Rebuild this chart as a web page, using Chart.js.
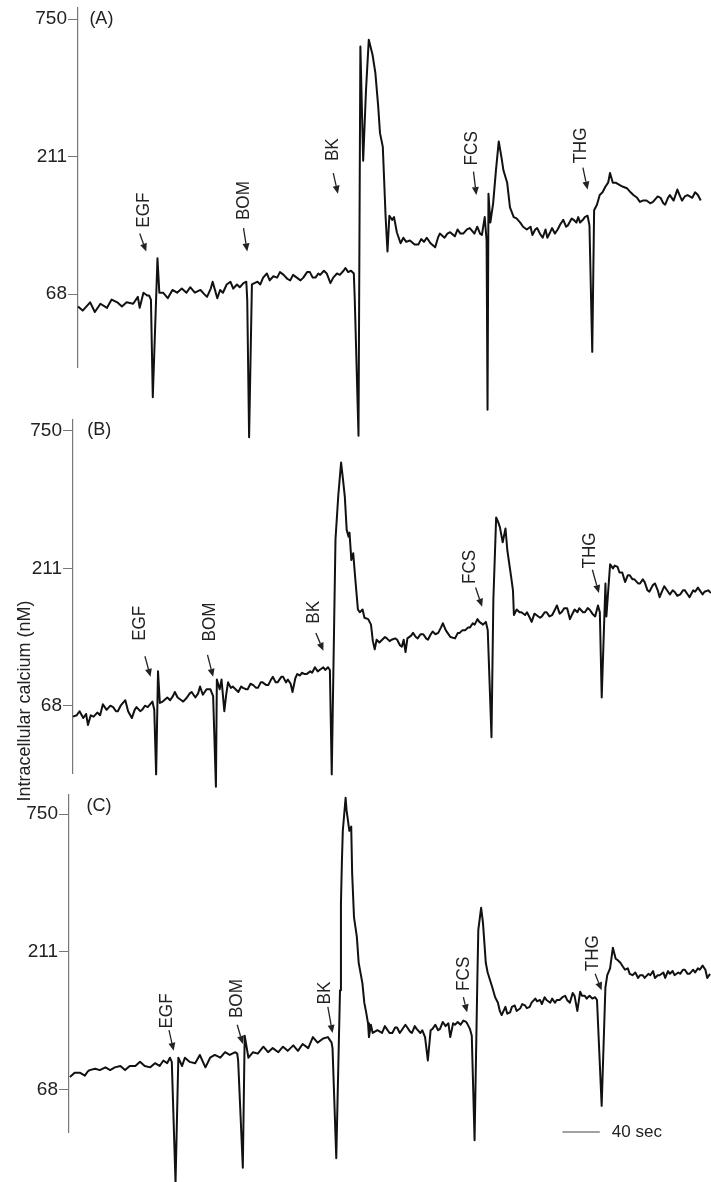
<!DOCTYPE html>
<html>
<head>
<meta charset="utf-8">
<script src="https://cdn.jsdelivr.net/npm/chart.js@4"></script>
<style>
html, body { margin: 0; padding: 0; background: #fff; }
#wrap { position: relative; width: 711px; height: 1182px; overflow: hidden; }
#wrap canvas { position: absolute; left: 0; top: 0; }
</style>
</head>
<body>
<div id="wrap">
<canvas id="chartA" width="711" height="1182"></canvas>
<canvas id="chartB" width="711" height="1182"></canvas>
<canvas id="chartC" width="711" height="1182"></canvas>
</div>
<script>
// fura-2 ratio levels; tick levels are labelled with the calibrated nM values
var tickValues = [1, 2, 3];
var tickLabels = ['68', '211', '750'];
var agents = ['EGF', 'BOM', 'BK', 'FCS', 'THG'];

// panel A (time in sec, level)
var timeA = [0,5,13,18,24,31,36,42,47,52,59,64,66,70,74,76,78,80,85,87,91,96,101,106,111,116,120,125,131,135,138,142,144,149,152,155,159,163,166,170,173,177,180,181,183,186,192,195,198,202,205,209,213,216,220,224,227,230,234,238,241,245,248,251,254,257,259,263,266,270,273,277,280,284,286,289,292,295,296,300,302,305,308,311,315,318,321,323,326,329,331,333,336,338,341,345,348,351,355,360,364,367,370,373,377,382,385,387,392,395,398,403,406,409,412,416,419,424,427,430,432,435,437,438,439,441,444,447,450,453,455,459,462,466,469,473,476,480,484,486,489,491,494,497,500,502,505,507,510,513,516,519,522,524,528,530,533,535,537,540,542,545,547,550,552,555,558,561,564,567,569,572,575,580,583,587,591,594,598,601,604,608,612,615,620,623,626,628,631,633,637,641,644,646,649,652,657,660,663,666];
var caA = [0.91,0.88,0.94,0.87,0.93,0.90,0.96,0.94,0.91,0.94,0.93,0.98,0.90,1.01,0.99,0.99,0.96,0.25,1.26,1.01,1.01,0.97,1.03,1.01,1.04,1.01,1.05,1.01,1.03,1.00,0.98,1.04,1.09,0.97,1.03,1.01,1.07,1.09,1.04,1.07,1.05,1.08,1.09,0.96,-0.04,1.07,1.09,1.07,1.12,1.15,1.10,1.13,1.12,1.16,1.14,1.11,1.10,1.14,1.12,1.10,1.12,1.16,1.16,1.12,1.12,1.15,1.14,1.17,1.15,1.08,1.12,1.15,1.14,1.17,1.19,1.16,1.17,1.15,0.96,-0.03,2.80,1.97,2.48,2.85,2.74,2.61,2.37,2.17,2.07,1.56,1.31,1.57,1.54,1.56,1.45,1.37,1.41,1.38,1.39,1.36,1.36,1.40,1.38,1.41,1.37,1.34,1.41,1.44,1.41,1.44,1.45,1.42,1.47,1.44,1.44,1.47,1.48,1.44,1.49,1.44,1.43,1.56,1.39,0.16,1.73,1.52,1.66,1.90,2.11,1.99,1.90,1.81,1.63,1.56,1.55,1.52,1.49,1.47,1.49,1.43,1.47,1.48,1.44,1.41,1.47,1.41,1.45,1.48,1.44,1.47,1.51,1.54,1.49,1.50,1.55,1.54,1.52,1.56,1.52,1.54,1.56,1.57,1.50,0.58,1.61,1.65,1.72,1.74,1.78,1.81,1.88,1.81,1.81,1.79,1.78,1.77,1.74,1.72,1.70,1.67,1.68,1.68,1.66,1.67,1.71,1.70,1.66,1.65,1.70,1.72,1.68,1.76,1.71,1.68,1.71,1.72,1.70,1.74,1.72,1.68];

// panel B
var timeB = [0,4,7,11,14,16,19,22,26,29,32,36,40,43,46,48,51,56,59,63,66,68,72,74,77,80,85,87,89,91,93,96,101,104,107,109,112,116,118,122,125,127,131,134,136,139,143,147,150,153,154,157,159,162,164,166,169,171,174,177,180,182,185,187,190,193,196,198,201,203,207,209,212,214,217,219,223,225,228,230,233,235,238,240,243,245,248,250,254,256,259,262,264,268,270,273,275,277,281,284,287,289,291,293,295,296,298,300,302,305,307,310,312,316,319,321,323,325,328,331,334,336,339,341,345,347,350,352,354,356,358,362,364,367,369,372,375,378,380,383,385,388,391,394,396,399,401,404,409,412,414,417,420,423,425,428,430,433,435,439,442,444,448,450,453,455,457,460,463,465,469,471,472,475,478,480,484,486,489,491,494,496,500,502,505,507,510,513,516,518,521,523,526,529,532,534,537,540,542,546,548,551,553,556,559,562,564,566,570,571,575,578,580,583,585,588,591,594,596,599,601,605,607,610,612,615,617,621,623,626,628,631,633,637,639,642,644,647,650,653,655,658,660,664,666,669,671,674,676,680,683];
var caB = [0.92,0.93,0.96,0.91,0.94,0.86,0.93,0.92,0.95,0.93,1.01,0.97,1.00,0.99,0.96,0.96,1.00,1.04,0.96,0.91,0.97,0.99,0.96,0.97,1.00,0.99,1.03,0.97,0.50,1.25,1.02,1.03,1.06,1.04,1.07,1.10,1.06,1.04,1.03,1.06,1.09,1.10,1.06,1.09,1.14,1.08,1.12,1.12,1.07,0.41,1.19,1.12,1.19,0.96,1.08,1.17,1.13,1.14,1.12,1.10,1.14,1.13,1.12,1.12,1.16,1.15,1.13,1.13,1.17,1.17,1.15,1.15,1.19,1.21,1.17,1.17,1.21,1.21,1.17,1.19,1.16,1.10,1.20,1.23,1.22,1.24,1.23,1.23,1.25,1.24,1.28,1.25,1.26,1.28,1.26,1.28,1.26,0.50,2.21,2.53,2.77,2.65,2.52,2.28,2.23,2.26,2.06,2.11,1.94,1.70,1.68,1.70,1.64,1.63,1.59,1.47,1.41,1.48,1.46,1.48,1.50,1.49,1.47,1.48,1.49,1.48,1.44,1.43,1.48,1.39,1.49,1.51,1.53,1.50,1.49,1.52,1.52,1.49,1.48,1.52,1.54,1.52,1.53,1.57,1.60,1.55,1.53,1.50,1.49,1.53,1.53,1.55,1.55,1.57,1.57,1.60,1.59,1.63,1.61,1.59,1.61,1.55,0.77,1.77,2.37,2.34,2.30,2.19,2.29,2.13,1.94,1.84,1.66,1.70,1.68,1.68,1.66,1.68,1.64,1.61,1.67,1.66,1.64,1.65,1.68,1.68,1.65,1.66,1.70,1.73,1.67,1.68,1.71,1.71,1.63,1.66,1.70,1.68,1.71,1.68,1.68,1.71,1.70,1.67,1.65,1.73,1.68,1.06,1.89,1.65,2.03,2.00,2.02,2.01,1.97,1.97,1.90,1.95,1.95,1.92,1.92,1.89,1.89,1.92,1.90,1.84,1.83,1.88,1.89,1.84,1.79,1.84,1.87,1.83,1.81,1.84,1.83,1.80,1.81,1.84,1.84,1.81,1.79,1.84,1.83,1.86,1.84,1.81,1.83,1.84,1.82];

// panel C
var timeC = [1,6,12,17,20,22,28,33,39,44,49,55,60,65,71,76,81,87,92,97,101,105,108,110,114,117,121,124,129,135,140,146,151,156,162,167,172,178,180,181,186,188,192,197,202,208,213,218,224,229,234,240,245,250,256,261,266,272,277,281,282,286,290,291,292,293,296,297,300,302,303,305,308,310,314,316,318,320,321,323,325,330,335,338,340,343,346,349,351,354,356,360,362,365,367,370,372,376,378,381,384,387,389,392,395,397,400,403,406,408,411,413,416,419,422,425,426,429,431,434,437,438,441,443,446,448,453,456,459,461,463,467,469,472,474,477,479,483,485,488,490,493,495,499,501,504,506,509,511,515,517,520,522,525,528,531,533,536,539,541,544,547,549,552,554,557,560,563,565,570,574,576,579,582,585,587,590,593,595,598,600,603,606,609,611,614,616,620,622,625,627,630,632,636,638,641,643,646,648,652,654,657,659,662,664,668,670,673,675,678,681,683,686];
var caC = [1.09,1.12,1.12,1.10,1.13,1.14,1.15,1.14,1.16,1.14,1.16,1.17,1.14,1.17,1.17,1.20,1.17,1.16,1.19,1.17,1.21,1.19,1.23,1.20,0.32,1.23,1.17,1.23,1.20,1.19,1.25,1.16,1.23,1.25,1.23,1.27,1.25,1.27,1.26,1.21,0.43,1.39,1.23,1.27,1.26,1.31,1.27,1.30,1.27,1.31,1.28,1.32,1.28,1.33,1.30,1.38,1.34,1.37,1.38,1.34,1.30,0.50,1.72,2.35,2.65,2.88,3.12,3.03,2.88,2.91,2.57,2.25,2.11,1.92,1.77,1.63,1.56,1.48,1.38,1.47,1.41,1.43,1.41,1.46,1.44,1.41,1.41,1.45,1.45,1.41,1.43,1.47,1.45,1.42,1.41,1.46,1.44,1.41,1.43,1.38,1.21,1.43,1.44,1.47,1.43,1.44,1.49,1.46,1.48,1.38,1.48,1.47,1.49,1.47,1.50,1.49,1.48,1.44,1.39,0.63,1.81,2.16,2.32,2.21,1.92,1.85,1.74,1.67,1.63,1.57,1.54,1.60,1.55,1.56,1.60,1.61,1.57,1.59,1.62,1.61,1.59,1.60,1.63,1.66,1.64,1.65,1.62,1.67,1.65,1.63,1.66,1.63,1.65,1.65,1.67,1.68,1.65,1.63,1.70,1.68,1.57,1.71,1.68,1.68,1.66,1.68,1.66,1.67,1.65,0.88,1.74,1.83,1.88,2.03,1.95,1.94,1.92,1.89,1.87,1.88,1.84,1.83,1.85,1.81,1.83,1.83,1.81,1.84,1.83,1.86,1.81,1.83,1.83,1.85,1.81,1.86,1.84,1.86,1.83,1.85,1.84,1.87,1.87,1.84,1.84,1.87,1.85,1.88,1.87,1.90,1.87,1.81,1.84];

// agent labels: time and level of label centre, arrows [t0, level0, t1, level1]
var labelTimeA = [70, 177, 272, 421, 538];
var labelLevelA = [1.61, 1.68, 2.05, 2.06, 2.08];
var arrowsA = [[66,1.44,73,1.31],[177,1.48,181,1.31],[273,1.88,278,1.73],[423,1.89,426,1.72],[540,1.92,545,1.76]];
var labelTimeB = [71, 146, 258, 425, 553];
var labelLevelB = [1.60, 1.61, 1.68, 2.01, 2.13];
var arrowsB = [[77,1.36,83,1.21],[144,1.37,150,1.21],[260,1.53,268,1.40],[431,1.86,438,1.72],[556,1.99,563,1.82]];
var labelTimeC = [105, 180, 274, 422, 560];
var labelLevelC = [1.57, 1.66, 1.70, 1.84, 1.99];
var arrowsC = [[107,1.43,112,1.28],[180,1.47,186,1.33],[277,1.60,282,1.41],[422,1.67,426,1.56],[563,1.84,570,1.72]];

var scaleBarC = [528, 568, 0.69]; // 40 sec

var FONT = '"Liberation Sans", Arial, sans-serif';

function drawArrow(ctx, x0, y0, x1, y1) {
    var ang = Math.atan2(y1 - y0, x1 - x0);
    var len = 8, hw = 3.5;
    var bx = x1 - len * Math.cos(ang), by = y1 - len * Math.sin(ang);
    ctx.beginPath();
    ctx.moveTo(x0, y0);
    ctx.lineTo(bx, by);
    ctx.lineWidth = 1.3;
    ctx.stroke();
    ctx.beginPath();
    ctx.moveTo(x1, y1);
    ctx.lineTo(bx + hw * Math.sin(ang), by - hw * Math.cos(ang));
    ctx.lineTo(bx - hw * Math.sin(ang), by + hw * Math.cos(ang));
    ctx.closePath();
    ctx.fill();
}

function marksPlugin(cfg) {
    return {
        id: 'marks',
        afterDatasetsDraw: function(chart) {
            var ctx = chart.ctx;
            var xs = chart.scales.x, ys = chart.scales.y;
            ctx.save();
            ctx.fillStyle = '#222';
            ctx.strokeStyle = '#222';
            ctx.textAlign = 'center';
            ctx.textBaseline = 'middle';

            cfg.labelTimes.forEach(function(t, i) {
                ctx.save();
                ctx.translate(xs.getPixelForValue(t), ys.getPixelForValue(cfg.labelLevels[i]));
                ctx.rotate(-Math.PI / 2);
                ctx.scale(0.9, 1);
                ctx.font = '19px ' + FONT;
                ctx.fillText(agents[i], 0, 0);
                ctx.restore();
            });

            cfg.arrows.forEach(function(a) {
                drawArrow(ctx, xs.getPixelForValue(a[0]), ys.getPixelForValue(a[1]),
                               xs.getPixelForValue(a[2]), ys.getPixelForValue(a[3]));
            });

            ctx.font = '18px ' + FONT;
            ctx.fillText(cfg.panel, xs.getPixelForValue(cfg.panelPos[0]), ys.getPixelForValue(cfg.panelPos[1]));

            if (cfg.scaleBar) {
                var sx0 = xs.getPixelForValue(cfg.scaleBar[0]);
                var sx1 = xs.getPixelForValue(cfg.scaleBar[1]);
                var sy = ys.getPixelForValue(cfg.scaleBar[2]);
                ctx.beginPath();
                ctx.moveTo(sx0, sy);
                ctx.lineTo(sx1, sy);
                ctx.lineWidth = 1;
                ctx.strokeStyle = '#444';
                ctx.stroke();
                ctx.textAlign = 'left';
                ctx.font = '17px ' + FONT;
                ctx.fillText('40 sec', sx1 + 12, sy);
            }

            if (cfg.title) {
                ctx.save();
                ctx.translate(25, 701);
                ctx.rotate(-Math.PI / 2);
                ctx.textAlign = 'center';
                ctx.font = '18px ' + FONT;
                ctx.fillText('Intracellular calcium (nM)', 0, 0);
                ctx.restore();
            }
            ctx.restore();
        }
    };
}

function makeChart(id, times, levels, box, cfg) {
    var pts = times.map(function(t, i) { return { x: t, y: levels[i] }; });
    return new Chart(document.getElementById(id), {
        type: 'line',
        data: {
            datasets: [{
                data: pts,
                borderColor: '#111',
                borderWidth: 2,
                pointRadius: 0,
                tension: 0,
                clip: false,
                borderJoinStyle: 'round'
            }]
        },
        options: {
            responsive: false,
            animation: false,
            events: [],
            layout: { padding: { left: 0, right: 0, top: box.top, bottom: 1182 - box.bottom } },
            plugins: { legend: { display: false }, tooltip: { enabled: false } },
            scales: {
                x: { type: 'linear', display: false, min: 0, max: box.xMax },
                y: {
                    type: 'linear',
                    min: box.yMin,
                    max: box.yMax,
                    afterBuildTicks: function(s) {
                        s.ticks = tickValues.map(function(v) { return { value: v }; });
                    },
                    afterFit: function(s) {
                        s.width = box.axisX;
                        s.paddingTop = 0;
                        s.paddingBottom = 0;
                    },
                    ticks: {
                        callback: function(v) { return tickLabels[tickValues.indexOf(v)]; },
                        font: { family: FONT, size: 19 },
                        color: '#222',
                        padding: 1
                    },
                    grid: { drawOnChartArea: false, tickLength: 10, color: '#777', lineWidth: 1 },
                    border: { display: true, color: '#777', width: 1.2 }
                }
            }
        },
        plugins: [marksPlugin(cfg)]
    });
}

makeChart('chartA', timeA, caA,
    { axisX: 78, top: 8, bottom: 367, yMin: 0.47, yMax: 3.08, xMax: 677 },
    { labelTimes: labelTimeA, labelLevels: labelLevelA, arrows: arrowsA, panel: '(A)', panelPos: [25, 3.0] });
makeChart('chartB', timeB, caB,
    { axisX: 73, top: 420, bottom: 773, yMin: 0.51, yMax: 3.08, xMax: 683 },
    { labelTimes: labelTimeB, labelLevels: labelLevelB, arrows: arrowsB, panel: '(B)', panelPos: [28, 3.01], title: true });
makeChart('chartC', timeC, caC,
    { axisX: 69, top: 795, bottom: 1132, yMin: 0.69, yMax: 3.14, xMax: 687 },
    { labelTimes: labelTimeC, labelLevels: labelLevelC, arrows: arrowsC, panel: '(C)', panelPos: [32, 3.06], scaleBar: scaleBarC });
</script>
</body>
</html>
